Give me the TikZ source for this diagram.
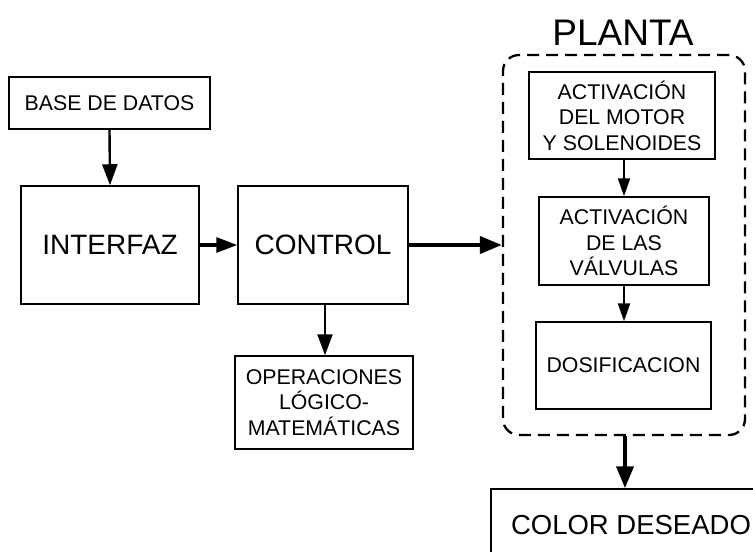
\documentclass[tikz,border=0pt]{standalone}
\usepackage{fontspec}
\setmainfont{Liberation Sans}
\usetikzlibrary{arrows.meta}
\begin{document}
\begin{tikzpicture}[x=1pt,y=-1pt,
  blk/.style={draw=black,line width=1.5pt,fill=white,inner sep=0pt,align=center},
  lnk/.style={line width=2.4pt,-{Triangle[length=21pt,width=15pt]}},
  biglnk/.style={line width=4pt,-{Triangle[length=22pt,width=17pt]}},
  txt/.style={font=\fontsize{21.3}{25.5}\selectfont},
  bigtxt/.style={font=\fontsize{28}{32}\selectfont}]
\clip (0,0) rectangle (753,552);
\fill[white] (0,0) rectangle (753,552);

% left column
\node[blk,txt,minimum width=201pt,minimum height=52pt] (base) at (109.5,103) {BASE DE DATOS};
\node[blk,bigtxt,minimum width=178pt,minimum height=118pt] (interfaz) at (110,245) {INTERFAZ};

% control and its operations
\node[blk,bigtxt,minimum width=170pt,minimum height=118pt] (control) at (323,245) {CONTROL};
\node[blk,txt,minimum width=178pt,minimum height=93pt] (ops) at (324,402.5)
  {OPERACIONES\\LÓGICO-\\MATEMÁTICAS};

% plant group
\node[draw=black,line width=2.3pt,dash pattern=on 12pt off 7pt,rounded corners=16pt,
  minimum width=242pt,minimum height=380pt,inner sep=0pt] (planta) at (624,245) {};
\node[font=\fontsize{37}{42}\selectfont,inner sep=0pt] (plantalbl) at (623,33) {PLANTA};
\node[blk,txt,minimum width=186pt,minimum height=87pt] (motor) at (622,115.5)
  {ACTIVACIÓN\\DEL MOTOR\\Y SOLENOIDES};
\node[blk,txt,minimum width=170pt,minimum height=88pt] (valv) at (624,241)
  {ACTIVACIÓN\\DE LAS\\VÁLVULAS};
\node[blk,txt,minimum width=175pt,minimum height=87pt] (dosif) at (623.5,365.5) {DOSIFICACION};

% output box, running past the right and bottom edges
\node[blk,minimum width=300pt,minimum height=110pt] (color) at (641,544) {};
\node[font=\fontsize{27.5}{32}\selectfont,inner sep=0pt] (colorlbl) at (631,525) {COLOR DESEADO};

% connectors
\draw[lnk] (base.south) -- (interfaz.north);
\draw[lnk,line width=3.2pt] (interfaz.east) -- (control.west);
\draw[biglnk] (control.east) -- (planta.west);
\draw[lnk] ([xshift=2pt]control.south) -- ([xshift=2pt]control.south |- ops.north);
\draw[lnk,line width=2pt,-{Triangle[length=18pt,width=12pt]}] ([xshift=2pt]motor.south) -- ([xshift=2pt]motor.south |- valv.north);
\draw[lnk,line width=2pt,-{Triangle[length=18pt,width=12pt]}] (valv.south) -- (valv.south |- dosif.north);
\draw[biglnk] ([xshift=1pt]planta.south) -- ([xshift=1pt]planta.south |- color.north);
\end{tikzpicture}
\end{document}
